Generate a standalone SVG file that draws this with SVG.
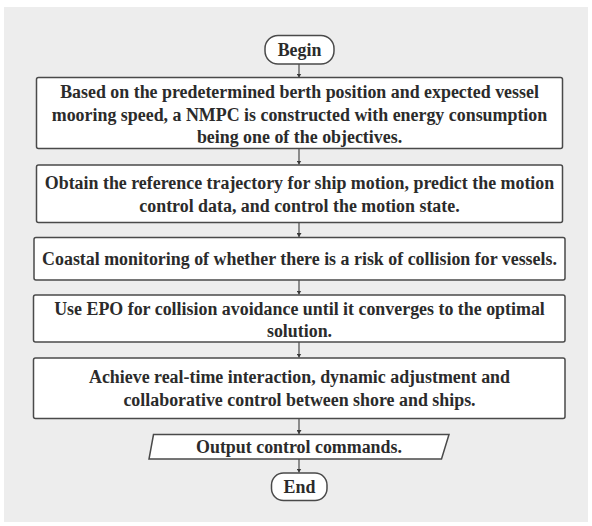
<svg xmlns="http://www.w3.org/2000/svg" width="592" height="526" viewBox="0 0 592 526">
<style>
.bg{fill:#ededed}
.box{fill:#ffffff;stroke:#4a4a4a;stroke-width:1.5}
.t{font-family:"Liberation Serif","Times New Roman",serif;font-weight:bold;font-size:17.9px;fill:#2b2b2b;text-anchor:middle;dominant-baseline:central}
.c{stroke:#4a4a4a;stroke-width:1.2;fill:none;marker-end:url(#ah)}
</style>
<defs>
<marker id="ah" viewBox="0 0 8 10" refX="8" refY="5" markerWidth="4" markerHeight="5" markerUnits="userSpaceOnUse" orient="auto">
<path d="M0,0 L8,5 L0,10 z" fill="#3a3a3a"/>
</marker>
</defs>
<rect class="bg" x="4" y="7" width="584" height="515"/>
<g id="connectors">
<line class="c" x1="299" y1="64" x2="299" y2="77.5"/>
<line class="c" x1="299" y1="148.5" x2="299" y2="164.5"/>
<line class="c" x1="299" y1="222.5" x2="299" y2="237"/>
<line class="c" x1="299" y1="280" x2="299" y2="294.5"/>
<line class="c" x1="299" y1="342" x2="299" y2="357.5"/>
<line class="c" x1="299" y1="418.5" x2="299" y2="434"/>
<line class="c" x1="299" y1="459" x2="299" y2="472.5"/>
</g>
<g id="begin">
<rect class="box" x="265" y="35.5" width="69" height="28.5" rx="13"/>
<text class="t" x="299.5" y="50">Begin</text>
</g>
<g id="step1">
<rect class="box" x="36.5" y="77.5" width="526" height="71" rx="2"/>
<text class="t" x="299.5" y="92">Based on the predetermined berth position and expected vessel</text>
<text class="t" x="299.5" y="114.5">mooring speed, a NMPC is constructed with energy consumption</text>
<text class="t" x="299.5" y="136.5">being one of the objectives.</text>
</g>
<g id="step2">
<rect class="box" x="36.5" y="165" width="526" height="57.5" rx="2"/>
<text class="t" x="299.5" y="183">Obtain the reference trajectory for ship motion, predict the motion</text>
<text class="t" x="299.5" y="205.5">control data, and control the motion state.</text>
</g>
<g id="step3">
<rect class="box" x="34" y="237.5" width="531" height="42.5" rx="2"/>
<text class="t" x="299.5" y="259">Coastal monitoring of whether there is a risk of collision for vessels.</text>
</g>
<g id="step4">
<rect class="box" x="33.5" y="295" width="531.5" height="47" rx="2"/>
<text class="t" x="299.5" y="308.5">Use EPO for collision avoidance until it converges to the optimal</text>
<text class="t" x="299.5" y="330.5">solution.</text>
</g>
<g id="step5">
<rect class="box" x="33.5" y="358" width="531.5" height="60.5" rx="2"/>
<text class="t" x="299.5" y="377">Achieve real-time interaction, dynamic adjustment and</text>
<text class="t" x="299.5" y="399.5">collaborative control between shore and ships.</text>
</g>
<g id="output">
<polygon class="box" points="153.5,434.5 449,434.5 441.5,459 149,459"/>
<text class="t" x="299" y="447">Output control commands.</text>
</g>
<g id="end">
<rect class="box" x="271.5" y="473" width="55.5" height="27.5" rx="12"/>
<text class="t" x="299.5" y="487">End</text>
</g>
</svg>
